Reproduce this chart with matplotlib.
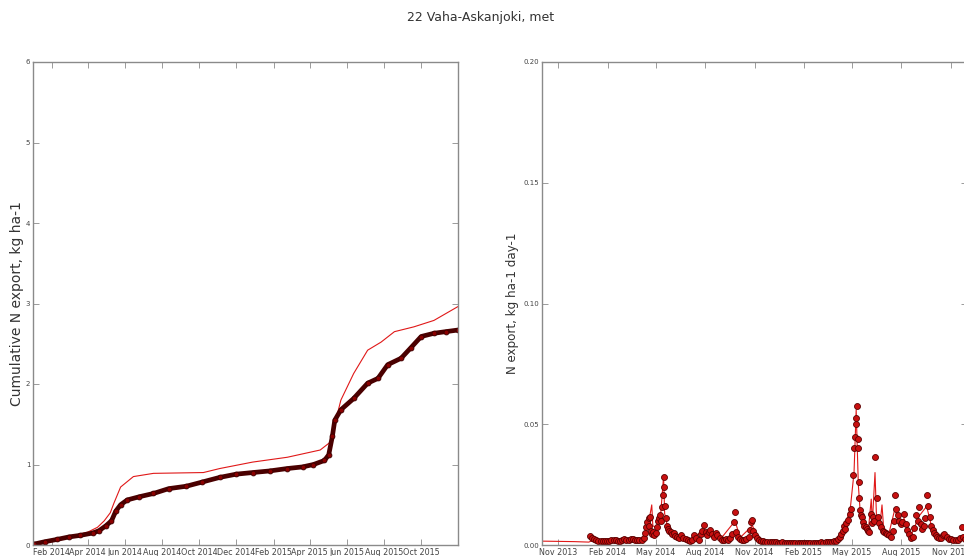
import numpy as np
import pandas as pd
import matplotlib
matplotlib.use("Agg")
import matplotlib.pyplot as plt
import matplotlib.dates as mdates

site_title = "22 Vaha-Askanjoki, met"

# cumulative export, observed (left panel, thick)
cum_obs_dates = ["2014-01-02", "2014-01-20", "2014-02-10", "2014-03-01", "2014-03-20",
                 "2014-04-10", "2014-04-20", "2014-05-01", "2014-05-10", "2014-05-17",
                 "2014-05-25", "2014-06-05", "2014-06-25", "2014-07-18", "2014-08-12",
                 "2014-09-10", "2014-10-05", "2014-11-04", "2014-12-01", "2014-12-28",
                 "2015-01-25", "2015-02-23", "2015-03-20", "2015-04-07", "2015-04-25",
                 "2015-05-02", "2015-05-08", "2015-05-12", "2015-05-22", "2015-06-12",
                 "2015-07-05", "2015-07-22", "2015-08-07", "2015-08-29", "2015-09-14",
                 "2015-10-01", "2015-10-22", "2015-11-10", "2015-11-30"]
cum_obs_vals = [0.01, 0.04, 0.07, 0.10, 0.12,
                0.15, 0.18, 0.24, 0.30, 0.42,
                0.50, 0.56, 0.60, 0.64, 0.70,
                0.73, 0.78, 0.84, 0.88, 0.90,
                0.92, 0.95, 0.97, 1.00, 1.05,
                1.12, 1.35, 1.55, 1.68, 1.82,
                2.01, 2.07, 2.24, 2.32, 2.45,
                2.59, 2.63, 2.65, 2.67]

# cumulative export, modelled (left panel, thin)
cum_mod_dates = ["2014-01-02", "2014-02-01", "2014-03-01", "2014-04-01", "2014-04-17",
                 "2014-04-28", "2014-05-08", "2014-05-14", "2014-05-25", "2014-06-15",
                 "2014-07-18", "2014-10-08", "2014-11-04", "2014-12-28", "2015-02-23",
                 "2015-04-18", "2015-05-05", "2015-05-12", "2015-05-22", "2015-06-12",
                 "2015-07-05", "2015-07-27", "2015-08-18", "2015-09-19", "2015-10-22",
                 "2015-11-30"]
cum_mod_vals = [0.00, 0.05, 0.10, 0.16, 0.22,
                0.30, 0.40, 0.52, 0.72, 0.85,
                0.89, 0.90, 0.95, 1.03, 1.09,
                1.18, 1.28, 1.50, 1.80, 2.13,
                2.42, 2.52, 2.65, 2.71, 2.79,
                2.96]

# daily export, observed (right panel, dots)
obs_dates = ["2013-12-30", "2014-01-03", "2014-01-07", "2014-01-11", "2014-01-15", "2014-01-19",
             "2014-01-23", "2014-01-27", "2014-01-31", "2014-02-04", "2014-02-08", "2014-02-12",
             "2014-02-16", "2014-02-20", "2014-02-24", "2014-02-28", "2014-03-04", "2014-03-08",
             "2014-03-12", "2014-03-16", "2014-03-20", "2014-03-24", "2014-03-28", "2014-04-01",
             "2014-04-05", "2014-04-09", "2014-04-12", "2014-04-14", "2014-04-16", "2014-04-18",
             "2014-04-19", "2014-04-21", "2014-04-23", "2014-04-25", "2014-04-27", "2014-04-29",
             "2014-05-01", "2014-05-03", "2014-05-05", "2014-05-07", "2014-05-09", "2014-05-11",
             "2014-05-13", "2014-05-15", "2014-05-16", "2014-05-17", "2014-05-18", "2014-05-20",
             "2014-05-22", "2014-05-24", "2014-05-26", "2014-05-29", "2014-06-01", "2014-06-04",
             "2014-06-07", "2014-06-10", "2014-06-14", "2014-06-18", "2014-06-22", "2014-06-26",
             "2014-06-30", "2014-07-04", "2014-07-08", "2014-07-12", "2014-07-16", "2014-07-20",
             "2014-07-24", "2014-07-27", "2014-07-30", "2014-08-02", "2014-08-05", "2014-08-08",
             "2014-08-11", "2014-08-14", "2014-08-18", "2014-08-21", "2014-08-24", "2014-08-28",
             "2014-09-01", "2014-09-05", "2014-09-09", "2014-09-13", "2014-09-17", "2014-09-21",
             "2014-09-24", "2014-09-26", "2014-09-28", "2014-10-01", "2014-10-05", "2014-10-09",
             "2014-10-13", "2014-10-17", "2014-10-21", "2014-10-24", "2014-10-26", "2014-10-28",
             "2014-10-30", "2014-11-02", "2014-11-05", "2014-11-09", "2014-11-13", "2014-11-17",
             "2014-11-21", "2014-11-25", "2014-11-29", "2014-12-03", "2014-12-07", "2014-12-11",
             "2014-12-15", "2014-12-19", "2014-12-23", "2014-12-27", "2014-12-31", "2015-01-04",
             "2015-01-08", "2015-01-12", "2015-01-16", "2015-01-20", "2015-01-24", "2015-01-28",
             "2015-02-01", "2015-02-05", "2015-02-09", "2015-02-13", "2015-02-17", "2015-02-21",
             "2015-02-25", "2015-03-01", "2015-03-05", "2015-03-09", "2015-03-13", "2015-03-17",
             "2015-03-21", "2015-03-25", "2015-03-29", "2015-04-02", "2015-04-05", "2015-04-08",
             "2015-04-11", "2015-04-14", "2015-04-16", "2015-04-18", "2015-04-21", "2015-04-24",
             "2015-04-27", "2015-04-30", "2015-05-03", "2015-05-05", "2015-05-07", "2015-05-08",
             "2015-05-09", "2015-05-11", "2015-05-12", "2015-05-13", "2015-05-14", "2015-05-15",
             "2015-05-17", "2015-05-18", "2015-05-20", "2015-05-22", "2015-05-24", "2015-05-27",
             "2015-05-29", "2015-05-31", "2015-06-02", "2015-06-05", "2015-06-07", "2015-06-09",
             "2015-06-11", "2015-06-13", "2015-06-16", "2015-06-18", "2015-06-21", "2015-06-24",
             "2015-06-27", "2015-06-30", "2015-07-03", "2015-07-06", "2015-07-09", "2015-07-13",
             "2015-07-16", "2015-07-18", "2015-07-20", "2015-07-22", "2015-07-25", "2015-07-28",
             "2015-07-31", "2015-08-03", "2015-08-06", "2015-08-09", "2015-08-12", "2015-08-15",
             "2015-08-19", "2015-08-22", "2015-08-25", "2015-08-28", "2015-08-31", "2015-09-03",
             "2015-09-06", "2015-09-09", "2015-09-12", "2015-09-14", "2015-09-17", "2015-09-20",
             "2015-09-23", "2015-09-25", "2015-09-28", "2015-10-01", "2015-10-04", "2015-10-07",
             "2015-10-10", "2015-10-14", "2015-10-17", "2015-10-20", "2015-10-24", "2015-10-29",
             "2015-11-01", "2015-11-05", "2015-11-10", "2015-11-15", "2015-11-18", "2015-11-21",
             "2015-11-24", "2015-11-28"]
obs_vals = [0.0036, 0.0030, 0.0024, 0.0020, 0.0018, 0.0017,
            0.0016, 0.0016, 0.0017, 0.0018, 0.0020, 0.0022,
            0.0019, 0.0017, 0.0018, 0.0021, 0.0024, 0.0022,
            0.0020, 0.0023, 0.0026, 0.0022, 0.0020, 0.0019,
            0.0021, 0.0030, 0.0050, 0.0075, 0.0095, 0.0110,
            0.0080, 0.0116, 0.0060, 0.0045, 0.0055, 0.0040,
            0.0050, 0.0075, 0.0100, 0.0110, 0.0125, 0.0100,
            0.0157, 0.0207, 0.0280, 0.0240, 0.0160, 0.0110,
            0.0080, 0.0068, 0.0060, 0.0055, 0.0045, 0.0050,
            0.0038, 0.0032, 0.0028, 0.0040, 0.0030, 0.0024,
            0.0020, 0.0018, 0.0022, 0.0040, 0.0030, 0.0022,
            0.0045, 0.0060, 0.0083, 0.0055, 0.0040, 0.0052,
            0.0062, 0.0045, 0.0032, 0.0050, 0.0042, 0.0028,
            0.0022, 0.0020, 0.0025, 0.0022, 0.0030, 0.0045,
            0.0095, 0.0137, 0.0054, 0.0035, 0.0025, 0.0022,
            0.0020, 0.0025, 0.0035, 0.0062, 0.0095, 0.0104,
            0.0060, 0.0040, 0.0030, 0.0022, 0.0018, 0.0016,
            0.0014, 0.0013, 0.0012, 0.0012, 0.0011, 0.0011,
            0.0010, 0.0010, 0.0011, 0.0010, 0.0010, 0.0009,
            0.0009, 0.0010, 0.0009, 0.0009, 0.0010, 0.0009,
            0.0009, 0.0009, 0.0010, 0.0009, 0.0009, 0.0010,
            0.0010, 0.0010, 0.0011, 0.0010, 0.0011, 0.0012,
            0.0012, 0.0013, 0.0015, 0.0018, 0.0025, 0.0033,
            0.0045, 0.0060, 0.0078, 0.0065, 0.0090, 0.0102,
            0.0130, 0.0150, 0.0290, 0.0400, 0.0447, 0.0500,
            0.0525, 0.0576, 0.0440, 0.0400, 0.0260, 0.0194,
            0.0145, 0.0125, 0.0116, 0.0095, 0.0080, 0.0075,
            0.0065, 0.0060, 0.0054, 0.0130, 0.0090, 0.0116,
            0.0100, 0.0364, 0.0194, 0.0116, 0.0090, 0.0075,
            0.0060, 0.0055, 0.0050, 0.0045, 0.0040, 0.0035,
            0.0060, 0.0100, 0.0207, 0.0150, 0.0123, 0.0100,
            0.0089, 0.0095, 0.0130, 0.0085, 0.0062, 0.0045,
            0.0030, 0.0035, 0.0070, 0.0123, 0.0100, 0.0157,
            0.0089, 0.0065, 0.0080, 0.0110, 0.0207, 0.0160,
            0.0116, 0.0080, 0.0062, 0.0050, 0.0040, 0.0035,
            0.0030, 0.0030, 0.0040, 0.0045, 0.0035, 0.0025,
            0.0025, 0.0022, 0.0020, 0.0020, 0.0030, 0.0075,
            0.0035, 0.0025]

# daily export, modelled (right panel, thin line)
mod_dates = ["2013-10-02", "2013-11-01", "2013-12-01", "2013-12-28", "2014-01-05",
             "2014-02-01", "2014-03-01", "2014-03-20", "2014-04-01", "2014-04-10",
             "2014-04-18", "2014-04-24", "2014-04-26", "2014-05-03", "2014-05-10",
             "2014-05-16", "2014-05-18", "2014-05-24", "2014-06-05", "2014-06-20",
             "2014-07-05", "2014-07-30", "2014-08-12", "2014-08-30", "2014-09-26",
             "2014-10-05", "2014-10-28", "2014-11-10", "2014-12-01", "2015-01-15",
             "2015-03-01", "2015-04-01", "2015-04-15", "2015-04-28", "2015-05-05",
             "2015-05-09", "2015-05-13", "2015-05-17", "2015-05-20", "2015-05-26",
             "2015-06-01", "2015-06-06", "2015-06-08", "2015-06-13", "2015-06-16",
             "2015-06-22", "2015-06-26", "2015-06-29", "2015-07-08", "2015-07-20",
             "2015-07-28", "2015-08-06", "2015-08-18", "2015-09-03", "2015-09-17",
             "2015-09-28", "2015-10-10", "2015-10-25", "2015-11-10", "2015-11-30"]
mod_vals = [0.0016, 0.0015, 0.0014, 0.0012, 0.0020,
            0.0017, 0.0025, 0.0030, 0.0022, 0.0040,
            0.0090, 0.0166, 0.0080, 0.0070, 0.0110,
            0.0285, 0.0130, 0.0070, 0.0045, 0.0030,
            0.0025, 0.0060, 0.0050, 0.0025, 0.0100,
            0.0030, 0.0080, 0.0025, 0.0015, 0.0012,
            0.0012, 0.0020, 0.0060, 0.0150, 0.0300,
            0.0560, 0.0250, 0.0120, 0.0110, 0.0080,
            0.0070, 0.0190, 0.0090, 0.0300, 0.0100,
            0.0080, 0.0166, 0.0070, 0.0040, 0.0150,
            0.0080, 0.0110, 0.0035, 0.0120, 0.0160,
            0.0060, 0.0035, 0.0035, 0.0025, 0.0030]

TICK_COL = "#444444"
SPINE_COL = "#8a8a8a"


def style_axes(ax):
    for sp in ax.spines.values():
        sp.set_color(SPINE_COL)
        sp.set_linewidth(1.0)
    ax.tick_params(which="both", direction="in", top=True, right=True,
                   length=4, width=0.6, color=SPINE_COL, labelcolor=TICK_COL, pad=2)
    ax.tick_params(axis="x", labelsize=5.8)
    ax.tick_params(axis="y", labelsize=5.0)


fig = plt.figure(figsize=(9.64, 5.56), dpi=100)
fig.patch.set_facecolor("white")

fig.text(0.4985, 1 - 18 / 556, site_title, ha="center", va="center",
         fontsize=9, color="#333333")

# left: cumulative export
ax1 = fig.add_axes([33 / 964, 11 / 556, 425 / 964, 483 / 556])
ax1.plot(pd.to_datetime(cum_mod_dates), cum_mod_vals, color="#e01818", lw=0.8)
ax1.plot(pd.to_datetime(cum_obs_dates), cum_obs_vals, color="#4a0000", lw=3.4,
         marker="o", ms=3.5, mfc="#8b0000", mec="#3a0000", mew=0.6,
         solid_capstyle="round")
ax1.set_xlim(pd.Timestamp("2014-01-01"), pd.Timestamp("2015-11-30 12:00"))
ax1.set_ylim(0, 6)
ax1.set_yticks(np.arange(0, 7, 1))
ax1.xaxis.set_major_locator(mdates.MonthLocator(bymonth=[2, 4, 6, 8, 10, 12]))
ax1.xaxis.set_major_formatter(mdates.DateFormatter("%b %Y"))
ax1.set_ylabel("Cumulative N export, kg ha-1", fontsize=10, color="#333333", labelpad=1)
style_axes(ax1)

# right: daily export
ax2 = fig.add_axes([542 / 964, 11 / 556, 425 / 964, 483 / 556])
ax2.plot(pd.to_datetime(mod_dates), mod_vals, color="#e01818", lw=0.8)
ax2.plot(pd.to_datetime(obs_dates), obs_vals, linestyle="none", marker="o", ms=4.3,
         mfc="#c81010", mec="#5a0000", mew=0.6)
ax2.set_xlim(pd.Timestamp("2013-10-02"), pd.Timestamp("2015-12-01"))
ax2.set_ylim(0, 0.2)
ax2.set_yticks(np.arange(0, 0.201, 0.05))
ax2.yaxis.set_major_formatter(matplotlib.ticker.FormatStrFormatter("%.2f"))
ax2.xaxis.set_major_locator(mdates.MonthLocator(bymonth=[2, 5, 8, 11]))
ax2.xaxis.set_major_formatter(mdates.DateFormatter("%b %Y"))
ax2.set_ylabel("N export, kg ha-1 day-1", fontsize=8.6, color="#333333", labelpad=3)
style_axes(ax2)

fig.savefig("out.png", dpi=100, facecolor="white")
